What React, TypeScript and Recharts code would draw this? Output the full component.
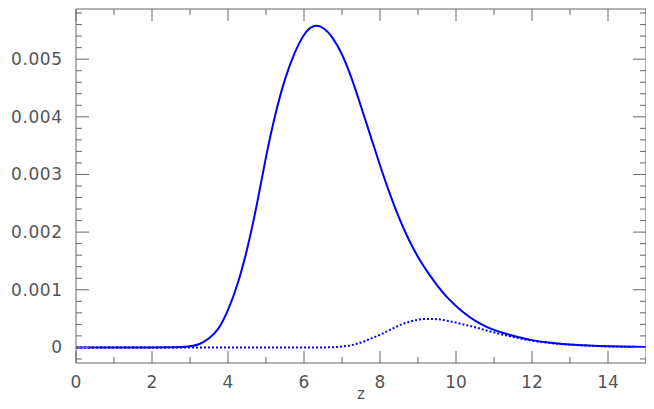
import { LineChart, Line, XAxis, YAxis, Label } from 'recharts';

// redshift grid
const zValues = [
  0, 1, 2,
  2.5, 2.75, 3, 3.25, 3.5, 3.75, 4, 4.25, 4.5, 4.75,
  5, 5.25, 5.5, 5.75, 6, 6.25, 6.5, 6.75, 7, 7.25,
  7.5, 7.75, 8, 8.25, 8.5, 8.75, 9, 9.25, 9.5, 9.75,
  10, 10.25, 10.5, 10.75, 11, 11.25, 11.5, 11.75, 12,
  12.5, 13, 13.5, 14, 15,
];

const solidValues = [
  0, 0, 0,
  0.000002, 0.000006, 0.00002, 0.00006, 0.00016, 0.00033, 0.00065, 0.0011, 0.0017, 0.00245,
  0.0033, 0.00405, 0.00465, 0.0051, 0.00542, 0.00557, 0.00554, 0.00537, 0.00508, 0.00467,
  0.00418, 0.00367, 0.00316, 0.00268, 0.00225, 0.00188, 0.00157, 0.00131, 0.00108, 0.00088,
  0.00072, 0.00058, 0.000465, 0.000375, 0.000305, 0.00025, 0.000203, 0.000162, 0.000127,
  0.00008, 0.00005, 0.000032, 0.00002, 0.000007,
];

const dottedValues = [
  0, 0, 0,
  0, 0, 0, 0, 0, 0, 0, 0, 0, 0,
  0, 0, 0, 0, 0, 0, 0, 0.000005, 0.000015, 0.00004,
  0.000085, 0.00015, 0.00022, 0.0003, 0.00038, 0.00044, 0.00048, 0.000495, 0.00049, 0.000465,
  0.00043, 0.00039, 0.00035, 0.000305, 0.00026, 0.00022, 0.000182, 0.000148, 0.000117,
  0.000075, 0.000047, 0.00003, 0.000019, 0.000007,
];

const xTicks = [0, 1, 2, 3, 4, 5, 6, 7, 8, 9, 10, 11, 12, 13, 14, 15];
const yTicks = [
  -0.0002, 0, 0.0002, 0.0004, 0.0006, 0.0008, 0.001, 0.0012, 0.0014, 0.0016, 0.0018, 0.002,
  0.0022, 0.0024, 0.0026, 0.0028, 0.003, 0.0032, 0.0034, 0.0036, 0.0038, 0.004, 0.0042, 0.0044,
  0.0046, 0.0048, 0.005, 0.0052, 0.0054, 0.0056, 0.0058,
];

const data = zValues.map((z, i) => ({ z, solid: solidValues[i], dotted: dottedValues[i] }));

const AXIS = '#666';
const FONT = 'DejaVu Sans';

const isMajorX = (v: number) => v % 2 === 0;
const isMajorY = (v: number) => Math.abs(v * 1000 - Math.round(v * 1000)) < 1e-6;

function XTick({ x, y, payload, top }: any) {
  const v = payload.value;
  const len = isMajorX(v) ? 12 : 6;
  if (top) {
    return <line x1={x} x2={x} y1={y} y2={y + len} stroke={AXIS} />;
  }
  return (
    <g>
      <line x1={x} x2={x} y1={y} y2={y - len} stroke={AXIS} />
      {isMajorX(v) && (
        <text x={x} y={y + 25} textAnchor='middle' fontFamily={FONT} fontSize={17} fill='#555'>
          {v}
        </text>
      )}
    </g>
  );
}

function YTick({ x, y, payload, right }: any) {
  const v = payload.value;
  const major = isMajorY(v);
  const len = major ? 13 : 6;
  if (right) {
    return <line x1={x} x2={x - len} y1={y} y2={y} stroke={AXIS} />;
  }
  const zero = Math.abs(v) < 1e-12;
  return (
    <g>
      <line x1={x} x2={x + len} y1={y} y2={y} stroke={AXIS} />
      {major &&
        (zero ? (
          <text x={x - 14} y={y + 6} textAnchor='end' fontFamily={FONT} fontSize={17} fill='#555'>
            0
          </text>
        ) : (
          <text
            x={x - 65}
            y={y + 6}
            textAnchor='start'
            fontFamily={FONT}
            fontSize={17}
            fill='#555'
            textLength={51}
            lengthAdjust='spacing'
          >
            {v.toFixed(3)}
          </text>
        ))}
    </g>
  );
}

function ZLabel({ viewBox }: any) {
  return (
    <text
      x={viewBox.x + viewBox.width / 2}
      y={viewBox.y + 36}
      textAnchor='middle'
      fontFamily={FONT}
      fontSize={15}
      fill='#555'
    >
      z
    </text>
  );
}

export default function App() {
  return (
    <div style={{ margin: -8 }}>
      <LineChart
        width={654}
        height={409}
        data={data}
        margin={{ top: 8, right: 7, bottom: 0, left: 0 }}
      >
        <XAxis
          dataKey='z'
          type='number'
          domain={[0, 15]}
          ticks={xTicks}
          interval={0}
          tickSize={0}
          tickMargin={0}
          tick={<XTick />}
          height={46}
          stroke={AXIS}
        >
          <Label content={<ZLabel />} />
        </XAxis>
        <XAxis
          xAxisId='top'
          orientation='top'
          dataKey='z'
          type='number'
          domain={[0, 15]}
          ticks={xTicks}
          interval={0}
          tickSize={0}
          tickMargin={0}
          tick={<XTick top />}
          height={1}
          stroke={AXIS}
        />
        <YAxis
          type='number'
          domain={[-0.00027, 0.00587]}
          ticks={yTicks}
          interval={0}
          tickSize={0}
          tickMargin={0}
          tick={<YTick />}
          width={76}
          stroke={AXIS}
          allowDataOverflow
        />
        <YAxis
          yAxisId='right'
          orientation='right'
          type='number'
          domain={[-0.00027, 0.00587]}
          ticks={yTicks}
          interval={0}
          tickSize={0}
          tickMargin={0}
          tick={<YTick right />}
          width={1}
          stroke={AXIS}
          allowDataOverflow
        />
        <Line
          dataKey='dotted'
          type='monotone'
          stroke='#0000ff'
          strokeWidth={2}
          strokeDasharray='2 2'
          dot={false}
          isAnimationActive={false}
        />
        <Line
          dataKey='solid'
          type='natural'
          stroke='#0000ff'
          strokeWidth={2}
          dot={false}
          isAnimationActive={false}
        />
      </LineChart>
    </div>
  );
}
